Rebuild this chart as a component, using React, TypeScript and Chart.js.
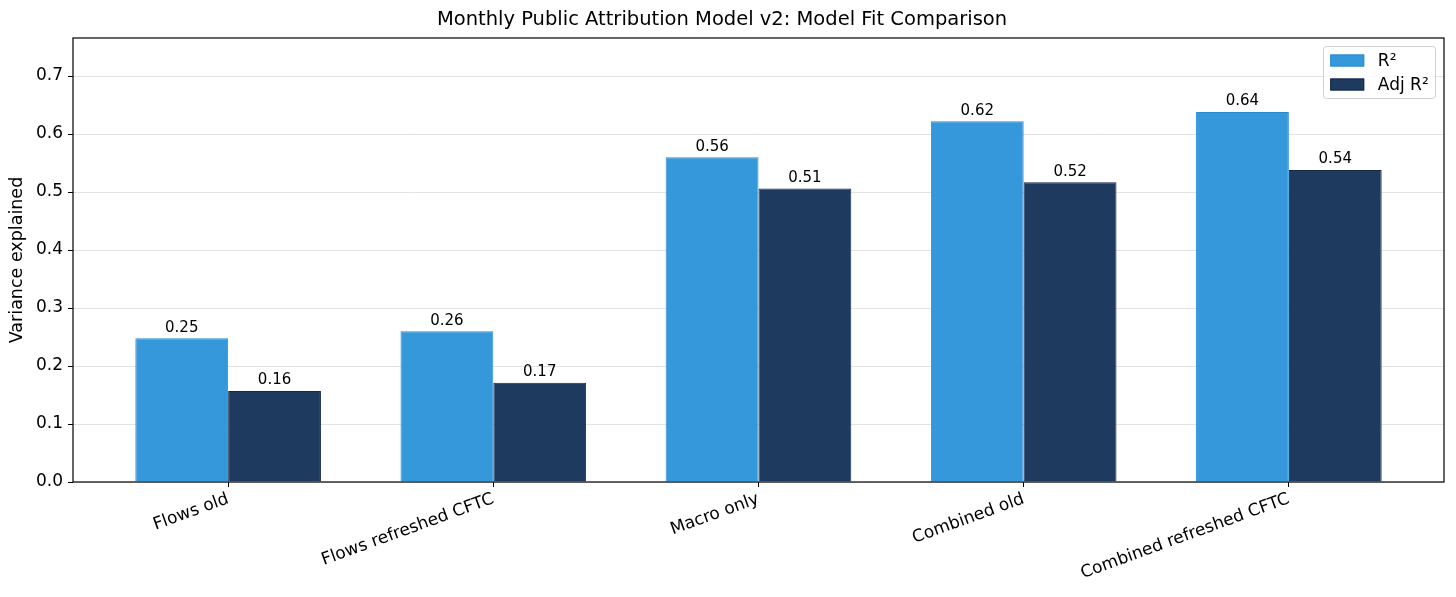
import { useEffect, useRef } from 'react';
import { Chart, registerables, Plugin } from 'chart.js';

Chart.register(...registerables);

const categories = ['Flows old', 'Flows refreshed CFTC', 'Macro only', 'Combined old', 'Combined refreshed CFTC'];
const r2Values = [0.248, 0.26, 0.56, 0.622, 0.638];
const adjR2Values = [0.157, 0.171, 0.506, 0.517, 0.538];
const seriesLabels = ['R²', 'Adj R²'];
const seriesColors = ['#3598db', '#1f3a5f'];
const seriesEdges = ['#2b8ad3', '#16294a'];
const yTicks = [0, 0.1, 0.2, 0.3, 0.4, 0.5, 0.6, 0.7];

const FONT = 'DejaVu Sans';

// value labels, legend box and the axes frame, drawn after everything else
const overlayPlugin: Plugin<'bar'> = {
  id: 'overlay',
  afterDraw(chart) {
    const { ctx, chartArea } = chart;
    ctx.save();

    // value labels above the bars
    ctx.fillStyle = '#000';
    ctx.font = `15px "${FONT}"`;
    ctx.textAlign = 'center';
    ctx.textBaseline = 'bottom';
    chart.data.datasets.forEach((ds, di) => {
      const meta = chart.getDatasetMeta(di);
      meta.data.forEach((el, i) => {
        const v = (ds.data[i] as { x: number; y: number }).y;
        ctx.fillText(v.toFixed(2), el.x, el.y - 3);
      });
    });

    // frame
    ctx.strokeStyle = '#000';
    ctx.lineWidth = 1.2;
    ctx.strokeRect(chartArea.left, chartArea.top, chartArea.right - chartArea.left, chartArea.bottom - chartArea.top);

    // legend, top right inside the axes
    const fs = 17;
    ctx.font = `${fs}px "${FONT}"`;
    const textW = Math.max(...seriesLabels.map((l) => ctx.measureText(l).width));
    const pad = 0.4 * fs;
    const handle = 2 * fs;
    const gap = 0.8 * fs;
    const rowH = 24;
    const boxW = pad + handle + gap + textW + pad;
    const boxH = rowH * seriesLabels.length + 4;
    const right = chartArea.right - 8.5;
    const top = chartArea.top + 8.5;
    const left = right - boxW;
    ctx.beginPath();
    ctx.roundRect(left, top, boxW, boxH, 3);
    ctx.fillStyle = 'rgba(255,255,255,0.8)';
    ctx.fill();
    ctx.strokeStyle = '#d0d0d0';
    ctx.lineWidth = 1;
    ctx.stroke();
    ctx.textAlign = 'left';
    ctx.textBaseline = 'middle';
    seriesLabels.forEach((label, i) => {
      const cy = top + 2 + rowH / 2 + i * rowH;
      ctx.fillStyle = seriesColors[i];
      ctx.fillRect(left + pad, cy - 6, handle, 12);
      ctx.strokeStyle = seriesEdges[i];
      ctx.strokeRect(left + pad + 0.5, cy - 5.5, handle - 1, 11);
      ctx.fillStyle = '#000';
      ctx.fillText(label, left + pad + handle + gap, cy + 1);
    });

    ctx.restore();
  },
};

export default function App() {
  const canvasRef = useRef<HTMLCanvasElement | null>(null);
  const chartRef = useRef<Chart | null>(null);

  useEffect(() => {
    if (chartRef.current) {
      chartRef.current.destroy();
    }
    if (!canvasRef.current) return;

    const yMax = Math.max(...r2Values) * 1.2;

    chartRef.current = new Chart(canvasRef.current, {
      type: 'bar',
      data: {
        datasets: [r2Values, adjR2Values].map((vals, si) => ({
          label: seriesLabels[si],
          data: vals.map((y, i) => ({ x: i, y })),
          backgroundColor: seriesColors[si],
          borderColor: seriesEdges[si],
          borderWidth: 1,
          categoryPercentage: 0.7,
          barPercentage: 1.0,
        })),
      },
      options: {
        responsive: true,
        maintainAspectRatio: false,
        animation: false,
        layout: { padding: { left: 0, right: 12, top: 0, bottom: 0 } },
        font: { family: FONT },
        plugins: {
          legend: { display: false },
          tooltip: { enabled: false },
          title: {
            display: true,
            text: 'Monthly Public Attribution Model v2: Model Fit Comparison',
            color: '#000',
            font: { family: FONT, size: 19.5, weight: 'normal' },
            padding: { top: 8, bottom: 6.6 },
          },
        },
        scales: {
          x: {
            type: 'linear',
            offset: false,
            min: -0.585,
            max: 4.585,
            afterBuildTicks: (axis) => {
              axis.ticks = categories.map((_, i) => ({ value: i }));
            },
            afterFit: (axis) => {
              axis.height = 115;
            },
            grid: {
              offset: false,
              drawOnChartArea: false,
              color: '#000',
              tickColor: '#000',
              tickLength: 5,
              lineWidth: 1,
            },
            border: { display: false },
            ticks: {
              autoSkip: false,
              minRotation: 20,
              maxRotation: 20,
              padding: 2,
              color: '#000',
              font: { family: FONT, size: 17 },
              callback: (v) => categories[v as number] ?? '',
            },
          },
          y: {
            min: 0,
            max: yMax,
            z: 1,
            afterBuildTicks: (axis) => {
              axis.ticks = yTicks.map((value) => ({ value }));
            },
            afterFit: (axis) => {
              axis.width = 73;
            },
            grid: { color: 'rgba(176,176,176,0.35)', tickColor: '#000', tickLength: 5, lineWidth: 1 },
            border: { display: false },
            ticks: {
              padding: 5,
              color: '#000',
              font: { family: FONT, size: 17 },
              callback: (v) => (v as number).toFixed(1),
            },
            title: {
              display: true,
              text: 'Variance explained',
              color: '#000',
              font: { family: FONT, size: 17.5 },
              padding: { top: 7, bottom: 4 },
            },
          },
        },
      },
      plugins: [overlayPlugin],
    });

    return () => {
      if (chartRef.current) {
        chartRef.current.destroy();
        chartRef.current = null;
      }
    };
  }, []);

  return (
    <div style={{ position: 'absolute', left: 0, top: 0, width: 1456, height: 597, background: '#fff' }}>
      <canvas ref={canvasRef} />
    </div>
  );
}
